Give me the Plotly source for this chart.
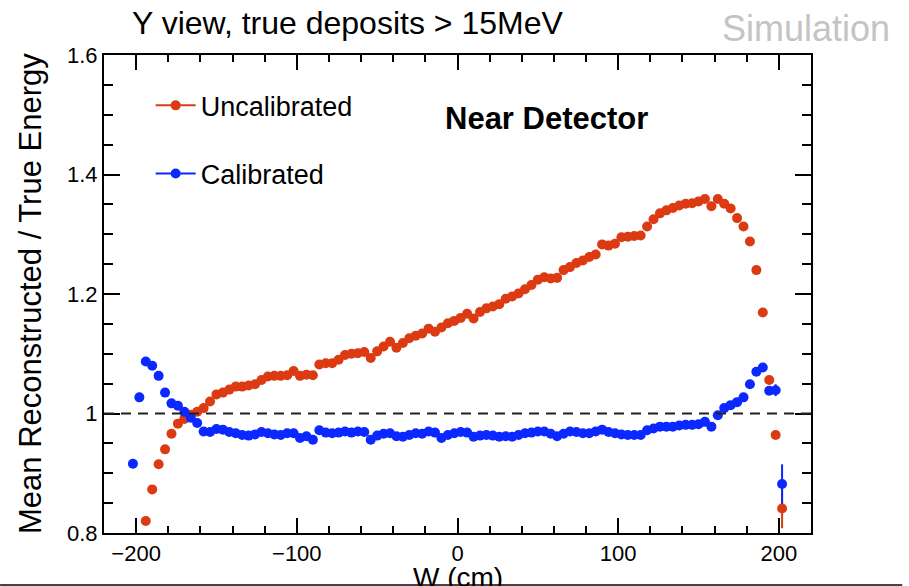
import plotly.graph_objects as go

# Bin centres (W, cm)
w_cm = [-202, -198, -194, -190, -186, -182, -178, -174, -170, -166,
        -162, -158, -154, -150, -146, -142, -138, -134, -130, -126,
        -122, -118, -114, -110, -106, -102, -98, -94, -90, -86,
        -82, -78, -74, -70, -66, -62, -58, -54, -50, -46,
        -42, -38, -34, -30, -26, -22, -18, -14, -10, -6,
        -2, 2, 6, 10, 14, 18, 22, 26, 30, 34,
        38, 42, 46, 50, 54, 58, 62, 66, 70, 74,
        78, 82, 86, 90, 94, 98, 102, 106, 110, 114,
        118, 122, 126, 130, 134, 138, 142, 146, 150, 154,
        158, 162, 166, 170, 174, 178, 182, 186, 190, 194,
        198, 202]

uncalibrated = [None, None, 0.820, 0.873, 0.915, 0.940, 0.966, 0.983, 0.991, 0.998,
                1.003, 1.009, 1.020, 1.032, 1.035, 1.040, 1.045, 1.045, 1.047, 1.049,
                1.056, 1.062, 1.063, 1.063, 1.064, 1.071, 1.063, 1.065, 1.064, 1.082,
                1.084, 1.084, 1.090, 1.098, 1.100, 1.101, 1.103, 1.093, 1.104, 1.112,
                1.120, 1.110, 1.118, 1.126, 1.130, 1.134, 1.142, 1.137, 1.144, 1.151,
                1.155, 1.160, 1.167, 1.159, 1.170, 1.176, 1.179, 1.183, 1.192, 1.196,
                1.201, 1.208, 1.215, 1.224, 1.228, 1.226, 1.227, 1.240, 1.245, 1.252,
                1.256, 1.262, 1.266, 1.283, 1.281, 1.284, 1.295, 1.296, 1.297, 1.298,
                1.313, 1.325, 1.335, 1.340, 1.344, 1.348, 1.351, 1.352, 1.355, 1.359,
                1.347, 1.359, 1.351, 1.343, 1.327, 1.313, 1.288, 1.240, 1.169, 1.056,
                0.964, 0.841]

calibrated = [0.916, 1.027, 1.087, 1.080, 1.063, 1.035, 1.017, 1.013, 1.003, 0.993,
              0.984, 0.970, 0.969, 0.974, 0.973, 0.969, 0.967, 0.964, 0.963, 0.965,
              0.969, 0.967, 0.965, 0.964, 0.967, 0.967, 0.959, 0.962, 0.956, 0.972,
              0.968, 0.967, 0.968, 0.970, 0.968, 0.970, 0.969, 0.956, 0.963, 0.966,
              0.967, 0.962, 0.961, 0.964, 0.967, 0.966, 0.970, 0.968, 0.959, 0.964,
              0.967, 0.969, 0.968, 0.961, 0.963, 0.964, 0.963, 0.961, 0.962, 0.961,
              0.964, 0.967, 0.968, 0.970, 0.970, 0.966, 0.962, 0.966, 0.970, 0.969,
              0.967, 0.967, 0.970, 0.973, 0.969, 0.967, 0.965, 0.964, 0.964, 0.964,
              0.972, 0.975, 0.978, 0.978, 0.978, 0.980, 0.981, 0.981, 0.982, 0.986,
              0.978, 0.997, 1.009, 1.014, 1.019, 1.027, 1.049, 1.070, 1.077, 1.038,
              1.039, 0.882]

# Statistical errors (only visible at the edges)
uncal_err = [0.0] * 100 + [0.004, 0.033]
cal_err = [0.0] * 100 + [0.010, 0.033]

RED = "#dc3a12"
BLUE = "#0a28ff"
FONT = "Liberation Sans, Arial, Helvetica, sans-serif"

fig = go.Figure()

fig.add_trace(go.Scatter(
    x=w_cm, y=uncalibrated, mode="markers", showlegend=False,
    marker=dict(color=RED, size=10, line=dict(width=0)),
    error_y=dict(type="data", array=uncal_err, visible=True, color=RED, thickness=2, width=0),
))
fig.add_trace(go.Scatter(
    x=w_cm, y=calibrated, mode="markers", showlegend=False,
    marker=dict(color=BLUE, size=10, line=dict(width=0)),
    error_y=dict(type="data", array=cal_err, visible=True, color=BLUE, thickness=2, width=0),
))

# legend entries (ROOT style: marker + line)
fig.add_trace(go.Scatter(x=[None], y=[None], mode="lines+markers", name="Uncalibrated",
                         legendgroup="a", line=dict(color=RED, width=2),
                         marker=dict(color=RED, size=10)))
fig.add_trace(go.Scatter(x=[None], y=[None], mode="lines+markers", name="Calibrated",
                         legendgroup="b", line=dict(color=BLUE, width=2),
                         marker=dict(color=BLUE, size=10)))

# reference line at 1
fig.add_shape(type="line", xref="x", yref="y", x0=-220, x1=220, y0=1, y1=1,
              line=dict(color="#222222", width=2, dash="10px,7px"))

# screenshot border at the bottom
fig.add_shape(type="line", xref="paper", yref="paper", x0=-0.147, x1=1.129,
              y0=-0.1088, y1=-0.1088, line=dict(color="#444444", width=2))

axis_common = dict(
    showline=True, linecolor="black", linewidth=2, mirror="allticks",
    ticks="inside", tickcolor="black", tickwidth=2,
    showgrid=False, zeroline=False,
    tickfont=dict(family=FONT, size=22, color="black"),
)

fig.update_xaxes(range=[-220, 220], tickvals=[-200, -100, 0, 100, 200], ticklen=15,
                 minor=dict(ticks="inside", dtick=20, tick0=0, ticklen=7,
                            tickcolor="black", tickwidth=2),
                 **axis_common)
fig.update_yaxes(range=[0.8, 1.6], tickvals=[0.8, 1.0, 1.2, 1.4, 1.6], ticklen=16,
                 minor=dict(ticks="inside", dtick=0.05, tick0=0.8, ticklen=9,
                            tickcolor="black", tickwidth=2),
                 **axis_common)

annotations = [
    dict(text="Y view, true deposits > 15MeV", x=0.0368, y=1.067, xref="paper", yref="paper",
         xanchor="left", yanchor="middle", showarrow=False,
         font=dict(family=FONT, size=32, color="black")),
    dict(text="Simulation", x=1.114, y=1.056, xref="paper", yref="paper",
         xanchor="right", yanchor="middle", showarrow=False,
         font=dict(family=FONT, size=36, color="#c4c4c4")),
    dict(text="<b>Near Detector</b>", x=0.6265, y=0.868, xref="paper", yref="paper",
         xanchor="center", yanchor="middle", showarrow=False,
         font=dict(family=FONT, size=31, color="black")),
    dict(text="Mean Reconstructed / True Energy", x=-0.1047, y=0.502, xref="paper", yref="paper",
         xanchor="center", yanchor="middle", textangle=-90, showarrow=False,
         font=dict(family=FONT, size=31, color="black")),
    dict(text="W (cm)", x=0.5, y=-0.094, xref="paper", yref="paper",
         xanchor="center", yanchor="middle", showarrow=False,
         font=dict(family=FONT, size=28, color="black")),
]

fig.update_layout(
    width=909, height=586,
    margin=dict(l=104, r=98, t=55, b=53),
    paper_bgcolor="white", plot_bgcolor="white",
    annotations=annotations,
    legend=dict(x=0.066, y=0.945, xanchor="left", yanchor="top",
                bgcolor="rgba(0,0,0,0)", traceorder="grouped", tracegroupgap=30,
                font=dict(family=FONT, size=27, color="black"), itemwidth=40),
)

fig.write_html("out.html")
